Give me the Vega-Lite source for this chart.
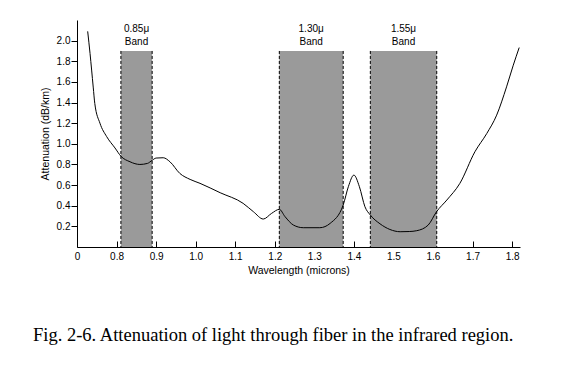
{
  "$schema": "https://vega.github.io/schema/vega-lite/v6.json",
  "width": 443,
  "height": 227,
  "autosize": "none",
  "padding": {"left": 77, "top": 20, "right": 60, "bottom": 125},
  "background": "white",
  "title": {
    "text": "Fig. 2-6. Attenuation of light through fiber in the infrared region.",
    "orient": "bottom",
    "anchor": "start",
    "frame": "group",
    "dx": -44,
    "offset": 65,
    "baseline": "alphabetic",
    "font": "Liberation Serif",
    "fontSize": 18.5,
    "fontWeight": "normal",
    "color": "black"
  },
  "datasets": {
    "bands": [
      {"start": 0.811, "end": 0.890, "top": 1.9, "bottom": 0, "mid": 0.8505, "label": "0.85μ\nBand"},
      {"start": 1.2115, "end": 1.373, "top": 1.9, "bottom": 0, "mid": 1.292, "label": "1.30μ\nBand"},
      {"start": 1.4416, "end": 1.6095, "top": 1.9, "bottom": 0, "mid": 1.5255, "label": "1.55μ\nBand"}
    ],
    "curve": [
      {"x": 0.727, "y": 2.09},
      {"x": 0.733, "y": 1.875},
      {"x": 0.741, "y": 1.55},
      {"x": 0.745, "y": 1.39},
      {"x": 0.758, "y": 1.20},
      {"x": 0.775, "y": 1.07},
      {"x": 0.796, "y": 0.96},
      {"x": 0.811, "y": 0.88},
      {"x": 0.834, "y": 0.826},
      {"x": 0.859, "y": 0.80},
      {"x": 0.878, "y": 0.81},
      {"x": 0.890, "y": 0.84},
      {"x": 0.900, "y": 0.862},
      {"x": 0.918, "y": 0.865},
      {"x": 0.935, "y": 0.826},
      {"x": 0.960, "y": 0.713},
      {"x": 0.986, "y": 0.655},
      {"x": 1.011, "y": 0.617},
      {"x": 1.062, "y": 0.526},
      {"x": 1.120, "y": 0.423},
      {"x": 1.146, "y": 0.342},
      {"x": 1.171, "y": 0.271},
      {"x": 1.192, "y": 0.326},
      {"x": 1.2115, "y": 0.365},
      {"x": 1.226, "y": 0.294},
      {"x": 1.247, "y": 0.213},
      {"x": 1.272, "y": 0.187},
      {"x": 1.314, "y": 0.187},
      {"x": 1.340, "y": 0.229},
      {"x": 1.373, "y": 0.407},
      {"x": 1.386, "y": 0.584},
      {"x": 1.400, "y": 0.697},
      {"x": 1.414, "y": 0.584},
      {"x": 1.428, "y": 0.390},
      {"x": 1.4416, "y": 0.31},
      {"x": 1.466, "y": 0.225},
      {"x": 1.491, "y": 0.17},
      {"x": 1.517, "y": 0.148},
      {"x": 1.540, "y": 0.15},
      {"x": 1.559, "y": 0.158},
      {"x": 1.588, "y": 0.213},
      {"x": 1.609, "y": 0.342},
      {"x": 1.635, "y": 0.455},
      {"x": 1.668, "y": 0.617},
      {"x": 1.706, "y": 0.923},
      {"x": 1.736, "y": 1.10},
      {"x": 1.761, "y": 1.278},
      {"x": 1.786, "y": 1.552},
      {"x": 1.803, "y": 1.762},
      {"x": 1.818, "y": 1.933}
    ]
  },
  "layer": [
    {
      "data": {"name": "bands"},
      "mark": {"type": "rect", "fill": "#9a9a9a"},
      "encoding": {
        "x": {"field": "start", "type": "quantitative", "title": "Wavelength (microns)"},
        "x2": {"field": "end"},
        "y": {"field": "top", "type": "quantitative", "title": "Attenuation (dB/km)"},
        "y2": {"field": "bottom"}
      }
    },
    {
      "data": {"name": "bands"},
      "mark": {"type": "rule", "color": "black", "strokeWidth": 1, "strokeDash": [3, 2]},
      "encoding": {
        "x": {"field": "start", "type": "quantitative", "title": "Wavelength (microns)"},
        "y": {"field": "top", "type": "quantitative", "title": "Attenuation (dB/km)"},
        "y2": {"field": "bottom"}
      }
    },
    {
      "data": {"name": "bands"},
      "mark": {"type": "rule", "color": "black", "strokeWidth": 1, "strokeDash": [3, 2]},
      "encoding": {
        "x": {"field": "end", "type": "quantitative", "title": "Wavelength (microns)"},
        "y": {"field": "top", "type": "quantitative", "title": "Attenuation (dB/km)"},
        "y2": {"field": "bottom"}
      }
    },
    {
      "data": {"name": "curve"},
      "mark": {"type": "line", "color": "black", "strokeWidth": 1, "interpolate": "monotone"},
      "encoding": {
        "x": {
          "field": "x", "type": "quantitative", "title": "Wavelength (microns)",
          "scale": {"domain": [0.7, 1.82], "nice": false, "zero": false},
          "axis": {
            "values": [0.7, 0.8, 0.9, 1.0, 1.1, 1.2, 1.3, 1.4, 1.5, 1.6, 1.7, 1.8],
            "tickCount": 30,
            "labelExpr": "datum.value < 0.75 ? '0' : format(datum.value, '.1f')",
            "tickSize": -6,
            "labelPadding": 10,
            "titlePadding": 4,
            "labelFlush": false,
            "labelOverlap": false
          }
        },
        "y": {
          "field": "y", "type": "quantitative", "title": "Attenuation (dB/km)",
          "scale": {"domain": [0, 2.2], "nice": false, "zero": true},
          "axis": {
            "values": [0.2, 0.4, 0.6, 0.8, 1.0, 1.2, 1.4, 1.6, 1.8, 2.0],
            "tickCount": 30,
            "format": ".1f",
            "tickSize": 6,
            "labelPadding": 1,
            "titlePadding": 6,
            "labelFlush": false,
            "labelOverlap": false
          }
        }
      }
    },
    {
      "data": {"name": "bands"},
      "mark": {"type": "text", "lineBreak": "\n", "baseline": "alphabetic", "align": "center", "dy": -19, "fontSize": 10, "lineHeight": 13.5, "font": "Liberation Sans", "color": "black"},
      "encoding": {
        "x": {"field": "mid", "type": "quantitative", "title": "Wavelength (microns)"},
        "y": {"field": "top", "type": "quantitative", "title": "Attenuation (dB/km)"},
        "text": {"field": "label"}
      }
    }
  ],
  "config": {
    "view": {"stroke": null},
    "axis": {
      "grid": false,
      "domainColor": "black",
      "tickColor": "black",
      "labelColor": "black",
      "titleColor": "black",
      "labelFont": "Liberation Sans",
      "titleFont": "Liberation Sans",
      "labelFontSize": 10,
      "titleFontSize": 10.5,
      "titleFontWeight": "normal",
      "domainWidth": 1,
      "tickWidth": 1
    }
  }
}
